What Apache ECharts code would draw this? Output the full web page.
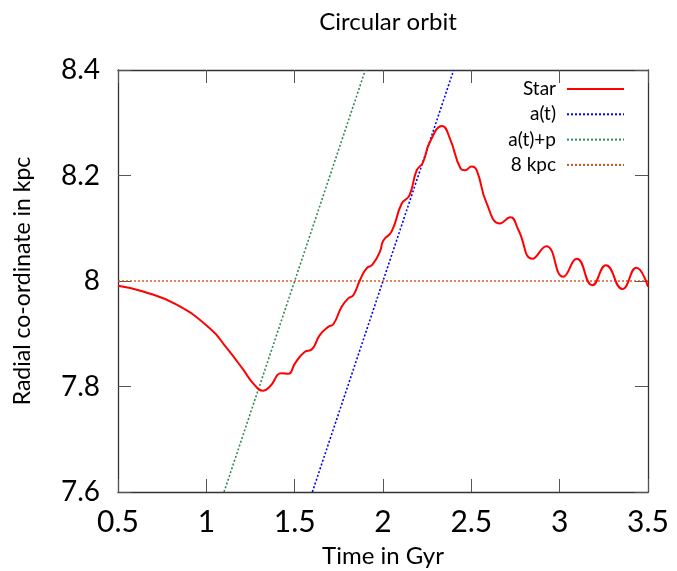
<!DOCTYPE html>
<html>
<head>
<meta charset="utf-8">
<script src="https://cdn.jsdelivr.net/npm/echarts@6/dist/echarts.min.js"></script>
<style>
  html, body { margin: 0; padding: 0; background: #fff; }
  #chart { width: 677px; height: 571px; }
</style>
</head>
<body>
<div id="chart"></div>
<script>
// Radial position of the star over time (Gyr, kpc)
const starTime = [0.5, 0.643, 0.832, 1.021, 1.115, 1.209, 1.265, 1.322, 1.360, 1.426, 1.464,
  1.502, 1.558, 1.596, 1.643, 1.690, 1.719, 1.766, 1.803, 1.832, 1.870,
  1.907, 1.940, 1.983, 2.002, 2.049, 2.106, 2.149, 2.191, 2.225,
  2.266, 2.335, 2.379, 2.440, 2.464, 2.502, 2.530, 2.587, 2.662, 2.721,
  2.766, 2.846, 2.924, 3.020, 3.097, 3.185, 3.262, 3.355, 3.434, 3.5];
const starRadius = [7.991, 7.980, 7.955, 7.910, 7.873, 7.832, 7.806, 7.792, 7.800, 7.825, 7.824,
  7.844, 7.866, 7.870, 7.898, 7.913, 7.918, 7.951, 7.967, 7.973, 8.002,
  8.024, 8.031, 8.056, 8.077, 8.094, 8.147, 8.162, 8.210, 8.224,
  8.264, 8.294, 8.270, 8.213, 8.210, 8.217, 8.210, 8.147, 8.109, 8.121,
  8.097, 8.042, 8.066, 8.008, 8.042, 7.992, 8.030, 7.985, 8.025, 7.989];

// Guiding radius a(t) and a(t)+p
const aTime = [1.6, 2.4];
const aRadius = [7.6, 8.4];
const apTime = [1.1, 1.9];
const apRadius = [7.6, 8.4];

// Reference radius of 8 kpc
const refTime = [0.5, 3.5];
const refRadius = [8, 8];

// Axis ticks
const xTicks = [0.5, 1, 1.5, 2, 2.5, 3, 3.5];
const yTicks = [7.6, 7.8, 8, 8.2, 8.4];

const FONT = 'Lato, "Open Sans", sans-serif';
const pairs = (xs, ys) => xs.map((x, i) => [x, ys[i]]);

const chart = echarts.init(document.getElementById('chart'), null, { renderer: 'canvas' });

const tickStyle = { inside: true, length: 13, lineStyle: { color: '#555', width: 1 } };
const lineAxis = { show: true, lineStyle: { color: '#333', width: 1.3 } };

chart.setOption({
  animation: false,
  backgroundColor: '#fff',
  title: {
    text: 'Circular orbit',
    left: 383, top: 5, textAlign: 'center',
    textStyle: { fontFamily: FONT, fontSize: 24, fontWeight: 'normal', color: '#000' }
  },
  legend: {
    orient: 'vertical',
    align: 'right',
    right: 52, top: 79.5, padding: 0,
    itemWidth: 57, itemHeight: 16, itemGap: 6.3,
    itemStyle: { opacity: 0, borderWidth: 0 },
    textStyle: { fontFamily: FONT, fontSize: 19, color: '#000', padding: [0, 6, 0, 0] },
    data: ['Star', 'a(t)', 'a(t)+p', '8 kpc']
  },
  grid: { left: 118, right: 29, top: 70, bottom: 79, outerBoundsMode: 'none', containLabel: false },
  xAxis: [{
    type: 'value', min: xTicks[0], max: xTicks[xTicks.length - 1], interval: 0.5,
    name: 'Time in Gyr', nameLocation: 'middle', nameGap: 52,
    nameTextStyle: { fontFamily: FONT, fontSize: 24, color: '#000' },
    axisLine: lineAxis, axisTick: tickStyle, splitLine: { show: false },
    axisLabel: { fontFamily: FONT, fontSize: 30, color: '#000', margin: 15,
      formatter: v => String(+v.toFixed(1)) }
  }, {
    type: 'value', position: 'top', min: xTicks[0], max: xTicks[xTicks.length - 1], interval: 0.5,
    axisLine: lineAxis, axisTick: tickStyle, axisLabel: { show: false }, splitLine: { show: false }
  }],
  yAxis: [{
    type: 'value', min: yTicks[0], max: yTicks[yTicks.length - 1], interval: 0.2,
    name: 'Radial co-ordinate in kpc', nameLocation: 'middle', nameGap: 84, nameRotate: 90,
    nameTextStyle: { fontFamily: FONT, fontSize: 23, color: '#000' },
    axisLine: lineAxis, axisTick: tickStyle, splitLine: { show: false },
    axisLabel: { fontFamily: FONT, fontSize: 28, color: '#000', margin: 18,
      formatter: v => String(+v.toFixed(1)) }
  }, {
    type: 'value', position: 'right', min: yTicks[0], max: yTicks[yTicks.length - 1], interval: 0.2,
    axisLine: lineAxis, axisTick: tickStyle, axisLabel: { show: false }, splitLine: { show: false }
  }],
  series: [{
    name: 'Star', type: 'line', data: pairs(starTime, starRadius),
    symbol: 'none', smooth: 0.5, clip: true,
    lineStyle: { color: '#ff0000', width: 2 }, itemStyle: { color: '#ff0000' }, z: 5
  }, {
    name: 'a(t)', type: 'line', data: pairs(aTime, aRadius),
    symbol: 'none', clip: true,
    lineStyle: { color: '#0000ff', width: 1.6, type: [2, 2] }, itemStyle: { color: '#0000ff' }
  }, {
    name: 'a(t)+p', type: 'line', data: pairs(apTime, apRadius),
    symbol: 'none', clip: true,
    lineStyle: { color: '#2e8b57', width: 1.6, type: [2, 2] }, itemStyle: { color: '#2e8b57' }
  }, {
    name: '8 kpc', type: 'line', data: pairs(refTime, refRadius),
    symbol: 'none', clip: true,
    lineStyle: { color: '#c8541e', width: 1.4, type: [2, 2] }, itemStyle: { color: '#c8541e' }
  }]
});
</script>
</body>
</html>
